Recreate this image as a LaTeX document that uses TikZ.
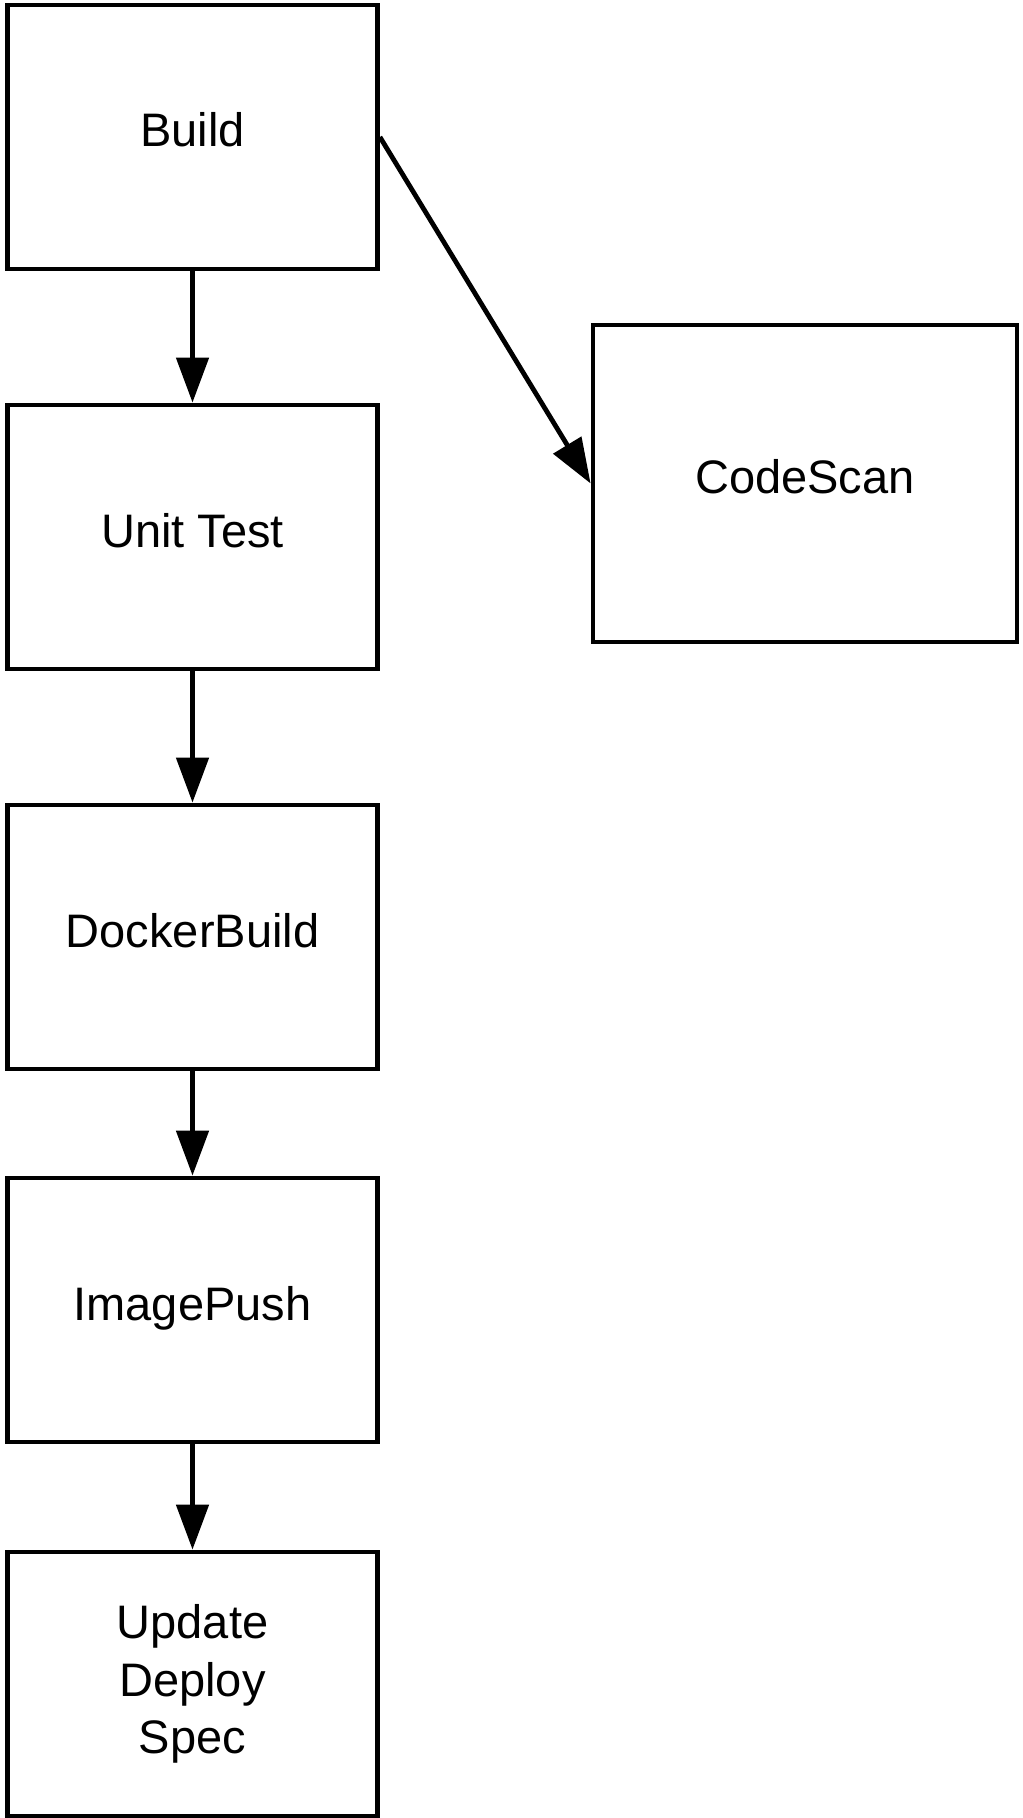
\documentclass[tikz,border=0pt]{standalone}
\usepackage{fontspec}
\setmainfont{Liberation Sans}
\usetikzlibrary{arrows.meta}
\begin{document}
\begin{tikzpicture}[x=0.5pt,y=-0.5pt,
  stagebox/.style={draw=black, line width=2.4pt, fill=white, rectangle,
    minimum width=185pt, minimum height=132pt, inner sep=0pt,
    font=\fontsize{23.5pt}{28.6pt}\selectfont, align=center},
  oneline/.style={text height=16pt, text depth=6pt},
  flow/.style={draw=black, line width=2.4pt,
    -{Triangle[length=22.5pt,width=16pt]}}]
\useasboundingbox (0,0) rectangle (1022,1818);
\node[stagebox, oneline] (build) at (192.5,137) {Build};
\node[stagebox, oneline] (unit) at (192.5,537) {Unit Test};
\node[stagebox, oneline] (docker) at (192.5,937) {DockerBuild};
\node[stagebox, oneline] (push) at (192.5,1310) {ImagePush};
\node[stagebox] (update) at (192.5,1684) {Update\\Deploy\\Spec};
\node[stagebox, oneline, minimum width=212pt, minimum height=158.5pt] (scan) at (805,483.5) {CodeScan};
\draw[flow] (build) -- (unit);
\draw[flow] (unit) -- (docker);
\draw[flow] (docker) -- (push);
\draw[flow] (push) -- (update);
\draw[flow] (build.east) -- (scan.west);
\end{tikzpicture}
\end{document}
